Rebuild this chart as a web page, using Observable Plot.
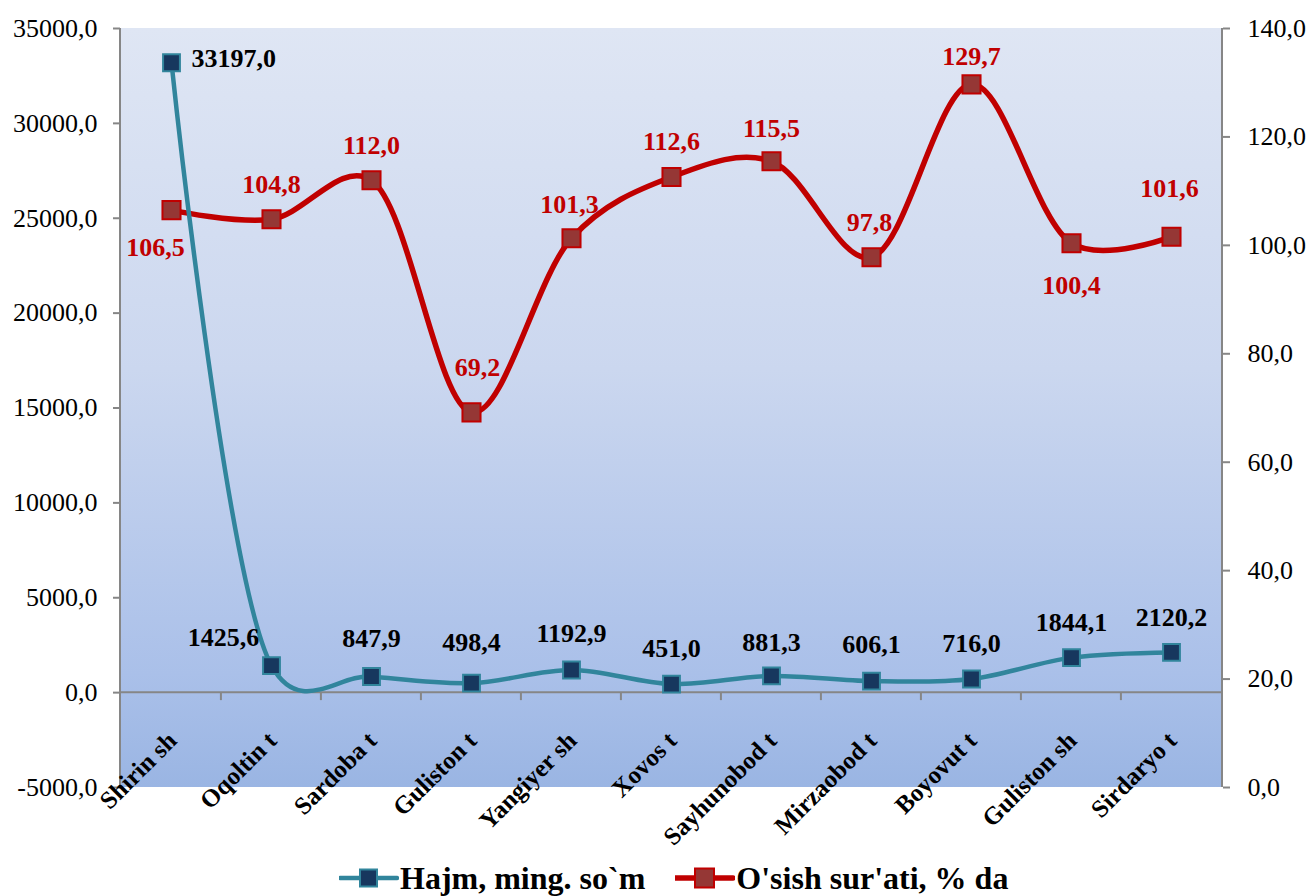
<!DOCTYPE html>
<html>
<head>
<meta charset="utf-8">
<script src="https://cdn.jsdelivr.net/npm/d3@7"></script>
<script src="https://cdn.jsdelivr.net/npm/@observablehq/plot@0.6"></script>
<style>
  body { margin: 0; background: #ffffff; }
  #wrap { position: relative; width: 1309px; height: 896px; font-family: "Liberation Serif", "Times New Roman", serif; }
  #legend { position: absolute; left: 339px; top: 858px; height: 40px; display: flex; align-items: center; font-weight: bold; font-size: 32px; color: #000; white-space: nowrap; }
  #legend .item { display: flex; align-items: center; margin-right: 30px; }
  #legend svg { display: block; margin-right: 1px; }
</style>
</head>
<body>
<div id="wrap">
  <div id="chart"></div>
  <div id="legend"></div>
</div>
<script>
// ---- data ----
const categories = ["Shirin sh", "Oqoltin t", "Sardoba t", "Guliston t", "Yangiyer sh", "Xovos t", "Sayhunobod t", "Mirzaobod t", "Boyovut t", "Guliston sh", "Sirdaryo t"];
const hajm = [33197.0, 1425.6, 847.9, 498.4, 1192.9, 451.0, 881.3, 606.1, 716.0, 1844.1, 2120.2];
const growth = [106.5, 104.8, 112.0, 69.2, 101.3, 112.6, 115.5, 97.8, 129.7, 100.4, 101.6];
const leftTicks = [-5000, 0, 5000, 10000, 15000, 20000, 25000, 30000, 35000];
const rightTicks = [0, 20, 40, 60, 80, 100, 120, 140];
const seriesNames = ["Hajm, ming. so`m", "O'sish sur'ati, % da"];

// ---- label placement (offsets in px, kept apart from data) ----
const hajmLabelOffsets = [[20, -4, "start"], [-48, -28, "middle"], [0, -38, "middle"], [0, -40, "middle"], [0, -36, "middle"], [0, -35, "middle"], [0, -33, "middle"], [0, -36, "middle"], [0, -35, "middle"], [0, -35, "middle"], [0, -35, "middle"]];
const growthLabelOffsets = [[-16, 38], [0, -35], [0, -35], [6, -45], [-2, -34], [0, -35], [0, -33], [-2, -35], [0, -28], [0, 42], [-2, -48]];

// ---- dual axis mapping ----
const leftDomain = [-5000, 35000];
const rightDomain = [0, 140];
const toLeft = v => leftDomain[0] + (v - rightDomain[0]) * (leftDomain[1] - leftDomain[0]) / (rightDomain[1] - rightDomain[0]);
const toRight = v => rightDomain[0] + (v - leftDomain[0]) * (rightDomain[1] - rightDomain[0]) / (leftDomain[1] - leftDomain[0]);
const fmt = v => (Math.round(v * 10) / 10).toFixed(1).replace(".", ",");

const hajmData = categories.map((c, i) => ({cat: c, v: hajm[i], label: fmt(hajm[i]), dx: hajmLabelOffsets[i][0], dy: hajmLabelOffsets[i][1], anchor: hajmLabelOffsets[i][2]}));
const growthData = categories.map((c, i) => ({cat: c, v: growth[i], y: toLeft(growth[i]), label: fmt(growth[i]), dx: growthLabelOffsets[i][0], dy: growthLabelOffsets[i][1]}));

const teal = "#31859c", navy = "#17375e", red = "#c00000", maroon = "#953735", gray = "#868686";
const serif = "'Liberation Serif', 'Times New Roman', serif";

// custom background
function frameDecor(index, scales, values, dimensions) {
  const {width, height, marginLeft, marginRight, marginTop, marginBottom} = dimensions;
  const x0 = marginLeft, x1 = width - marginRight, y0 = marginTop, y1 = height - marginBottom;
  const g = d3.create("svg:g");
  const defs = g.append("defs");
  const lg = defs.append("linearGradient").attr("id", "plotbg").attr("x1", 0).attr("y1", 0).attr("x2", 0).attr("y2", 1);
  lg.append("stop").attr("offset", "0%").attr("stop-color", "#dfe6f4");
  lg.append("stop").attr("offset", "45%").attr("stop-color", "#cbd7ef");
  lg.append("stop").attr("offset", "85%").attr("stop-color", "#aac0e9");
  lg.append("stop").attr("offset", "100%").attr("stop-color", "#9ab5e3");
  g.append("rect").attr("x", x0).attr("y", y0).attr("width", x1 - x0).attr("height", y1 - y0).attr("fill", "url(#plotbg)");
  return g.node();
}
// axis lines, zero line, category boundary ticks
function axisDecor(index, scales, values, dimensions) {
  const {width, height, marginLeft, marginRight, marginTop, marginBottom} = dimensions;
  const x0 = marginLeft, x1 = width - marginRight, y0 = marginTop, y1 = height - marginBottom;
  const g = d3.create("svg:g").attr("stroke", gray).attr("stroke-width", 2).attr("fill", "none");
  const yz = scales.y(0);
  g.append("line").attr("x1", x0).attr("x2", x0).attr("y1", y0).attr("y2", y1);
  g.append("line").attr("x1", x1).attr("x2", x1).attr("y1", y0).attr("y2", y1);
  g.append("line").attr("x1", x0).attr("x2", x1).attr("y1", yz).attr("y2", yz);
  const step = (x1 - x0) / categories.length;
  for (let i = 1; i < categories.length; i++) {
    const xb = scales.x(categories[i]) - step / 2;
    g.append("line").attr("x1", xb).attr("x2", xb).attr("y1", yz).attr("y2", yz + 8);
  }
  return g.node();
}

const chart = Plot.plot({
  width: 1309,
  height: 850,
  marginLeft: 120,
  marginRight: 87,
  marginTop: 28,
  marginBottom: 63,
  style: {fontFamily: serif, background: "transparent", color: "#000"},
  x: {type: "point", domain: categories, padding: 0.5},
  y: {domain: leftDomain},
  marks: [
    frameDecor,
    axisDecor,
    Plot.axisY({ticks: leftTicks, tickFormat: fmt, tickSize: 7, tickPadding: 16, fontSize: 26, stroke: gray, strokeWidth: 2, fill: "#000", label: null}),
    Plot.axisY({anchor: "right", ticks: rightTicks.map(toLeft), tickFormat: d => fmt(toRight(d)), tickSize: 7, tickPadding: 18, fontSize: 26, stroke: gray, strokeWidth: 2, fill: "#000", label: null}),
    Plot.axisX({tickRotate: -45, tickSize: 0, tickPadding: 3, dy: -54, dx: 1, fontSize: 25, fontWeight: "bold", fill: "#000", label: null}),
    Plot.line(growthData, {x: "cat", y: "y", curve: "catmull-rom", tension: 0.25, stroke: red, strokeWidth: 5.5}),
    Plot.line(hajmData, {x: "cat", y: "v", curve: "catmull-rom", tension: 0.25, stroke: teal, strokeWidth: 4.5}),
    Plot.dot(growthData, {x: "cat", y: "y", symbol: "square", r: 10.2, fill: maroon, stroke: red, strokeWidth: 2}),
    Plot.dot(hajmData, {x: "cat", y: "v", symbol: "square", r: 9.5, fill: navy, stroke: teal, strokeWidth: 2}),
    ...hajmData.map(d => Plot.text([d], {x: "cat", y: "v", text: "label", dx: d.dx, dy: d.dy, textAnchor: d.anchor, fontSize: 26, fontWeight: "bold", fill: "#000"})),
    ...growthData.map(d => Plot.text([d], {x: "cat", y: "y", text: "label", dx: d.dx, dy: d.dy, fontSize: 26, fontWeight: "bold", fill: red}))
  ]
});
document.getElementById("chart").appendChild(chart);

// legend
const legend = document.getElementById("legend");
const legendStyles = [{line: teal, fill: navy, stroke: teal, w: 4.5, s: 17}, {line: red, fill: maroon, stroke: red, w: 5.5, s: 19}];
seriesNames.forEach((name, i) => {
  const st = legendStyles[i];
  const item = document.createElement("div");
  item.className = "item";
  const sv = d3.create("svg").attr("width", 60).attr("height", 30);
  sv.append("line").attr("x1", 1).attr("x2", 58).attr("y1", 15).attr("y2", 15).attr("stroke", st.line).attr("stroke-width", st.w).attr("stroke-linecap", "round");
  sv.append("rect").attr("x", 29.5 - st.s / 2).attr("y", 15 - st.s / 2).attr("width", st.s).attr("height", st.s).attr("fill", st.fill).attr("stroke", st.stroke).attr("stroke-width", 2);
  item.appendChild(sv.node());
  const t = document.createElement("span");
  t.textContent = name;
  item.appendChild(t);
  legend.appendChild(item);
});
</script>
</body>
</html>
